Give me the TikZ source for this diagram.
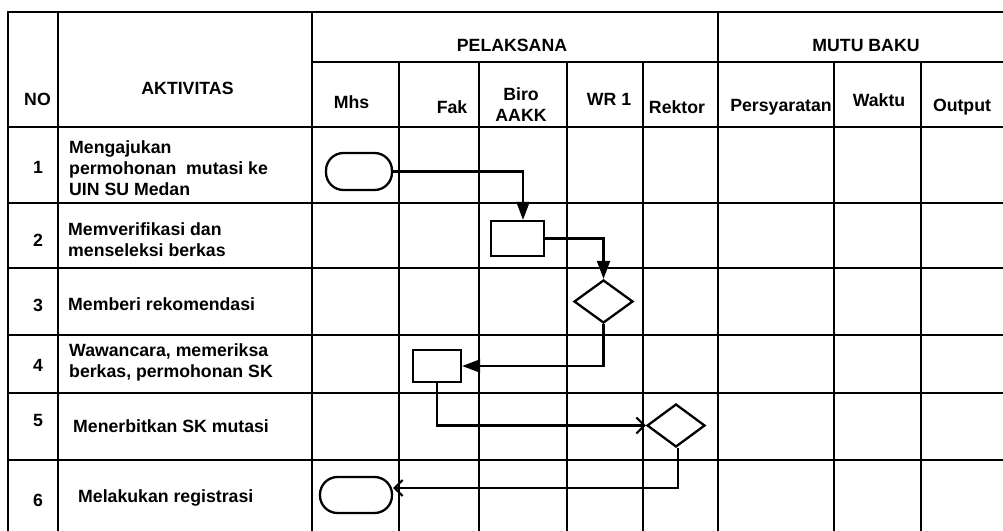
\documentclass[tikz,border=0pt]{standalone}
\usepackage{fontspec}
\setmainfont{Liberation Sans}
\usetikzlibrary{shapes.geometric,arrows.meta}
\tikzset{
  grid/.style={line width=2.4pt,line cap=rect},
  txt/.style={inner sep=0pt,font=\fontsize{17.7}{21}\selectfont\bfseries},
  ltxt/.style={txt,anchor=west,align=left},
  ctxt/.style={txt,align=center},
  term/.style={draw,line width=2.3pt,rectangle,rounded corners=17.5pt,minimum width=66pt,minimum height=37pt,inner sep=0pt},
  proc/.style={draw,line width=2.3pt,rectangle,inner sep=0pt},
  dec/.style={draw,line width=2.3pt,diamond,inner sep=0pt},
  conn/.style={line width=2.1pt},
  fillarrow/.style={conn,-{Triangle[length=18pt,width=13pt]}},
  openarrow/.style={conn,-{Straight Barb[length=8pt,width=16pt]}}
}
\begin{document}
\begin{tikzpicture}[x=1pt,y=-1pt]
\useasboundingbox (0,0) rectangle (1003,530);
\begin{scope}
\clip (0,0) rectangle (1003,530);
% horizontal lines
\draw[grid] (8,12) -- (1010,12);
\draw[grid] (312,62) -- (1010,62);
\foreach \y in {127,203,268,335,393,460}
  \draw[grid] (8,\y) -- (1010,\y);
% vertical lines
\foreach \x in {8,58,312,718}
  \draw[grid] (\x,12) -- (\x,540);
\foreach \x in {399,479,567,643,834,921}
  \draw[grid] (\x,62) -- (\x,540);
\end{scope}
% header texts
\node[ctxt] (hno) at (37.5,99) {NO};
\node[ctxt] (hakt) at (187.5,88) {AKTIVITAS};
\node[ctxt] (hpel) at (512,45) {PELAKSANA};
\node[ctxt] (hmutu) at (866,45) {MUTU BAKU};
\node[ctxt] (hmhs) at (351.5,102) {Mhs};
\node[ctxt] (hfak) at (452,107) {Fak};
\node[ctxt] (hbiro) at (521,105) {Biro\\AAKK};
\node[ctxt] (hwr) at (609,99) {WR 1};
\node[ctxt] (hrek) at (677,107) {Rektor};
\node[ctxt] (hper) at (781,107) {Persyaratan};
\node[ctxt] (hwak) at (879,100) {Waktu};
\node[ctxt] (hout) at (962,107) {Output};
% row numbers
\node[ctxt] (n1) at (38,167) {1};
\node[ctxt] (n2) at (38,240) {2};
\node[ctxt] (n3) at (38,305) {3};
\node[ctxt] (n4) at (38,365) {4};
\node[ctxt] (n5) at (38,420) {5};
\node[ctxt] (n6) at (38,500) {6};
% activities
\node[ltxt] (a1) at (69,168) {Mengajukan\\permohonan\ \ mutasi ke\\UIN SU Medan};
\node[ltxt] (a2) at (68,239.5) {Memverifikasi dan\\menseleksi berkas};
\node[ltxt] (a3) at (68,304) {Memberi rekomendasi};
\node[ltxt] (a4) at (69,362.5) {Wawancara, memeriksa\\berkas, permohonan SK};
\node[ltxt] (a5) at (73,426) {Menerbitkan SK mutasi};
\node[ltxt] (a6) at (78,498) {Melakukan registrasi};
% flow shapes
\node[term] (t1) at (359,171.5) {};
\node[proc,minimum width=53pt,minimum height=35pt] (p2) at (517.5,238.5) {};
\node[dec,minimum width=59pt,minimum height=43pt] (d3) at (603.5,301.5) {};
\node[proc,minimum width=48pt,minimum height=32pt] (p4) at (437,366) {};
\node[dec,minimum width=58pt,minimum height=43pt] (d5) at (676,425.5) {};
\node[term,minimum width=72pt,minimum height=36pt] (t6) at (356,495) {};
% connectors
\draw[fillarrow] (t1.east) -| ([xshift=5.5pt]p2.north);
\draw[fillarrow] (p2.east) -| (d3.north);
\draw[fillarrow] (d3.south) |- (p4.east);
\draw[openarrow] (p4.south) |- (d5.west);
\draw[openarrow] ([xshift=2pt]d5.south) |- ([yshift=7pt]t6.east);
\end{tikzpicture}
\end{document}
